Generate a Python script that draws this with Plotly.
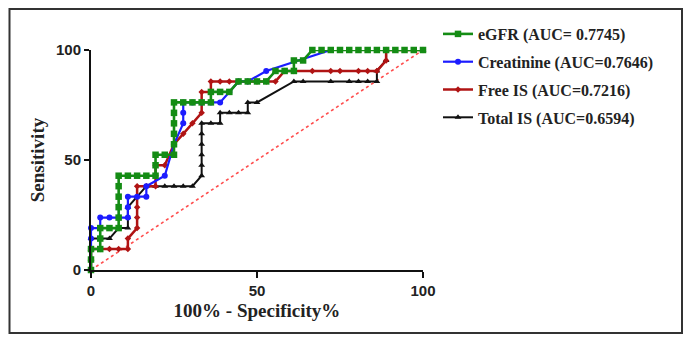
import plotly.graph_objects as go

# ---- data (percent) ----
egfr_x = [0, 0, 0, 2.78, 2.78, 2.78, 5.56, 8.33, 8.33, 8.33, 8.33, 8.33, 8.33,
          11.11, 13.89, 16.67, 19.44, 19.44, 19.44, 22.22, 25, 25, 25, 25, 25, 25,
          27.78, 30.56, 33.33, 36.11, 36.11, 38.89, 41.67, 44.44, 47.22, 50, 52.78,
          55.56, 58.33, 61.11, 61.11, 63.89, 66.67, 69.44, 72.22, 75, 77.78, 80.56,
          83.33, 86.11, 88.89, 91.67, 94.44, 97.22, 100]
egfr_y = [0, 4.76, 9.52, 9.52, 14.29, 19.05, 19.05, 19.05, 23.81, 28.57, 33.33, 38.1, 42.86,
          42.86, 42.86, 42.86, 42.86, 47.62, 52.38, 52.38, 52.38, 57.14, 61.9, 66.67, 71.43, 76.19,
          76.19, 76.19, 76.19, 76.19, 80.95, 80.95, 80.95, 85.71, 85.71, 85.71, 85.71,
          90.48, 90.48, 90.48, 95.24, 95.24, 100, 100, 100, 100, 100, 100,
          100, 100, 100, 100, 100, 100, 100]

creat_x = [0, 0, 0, 0, 0, 2.78, 2.78, 5.56, 8.33, 11.11, 11.11, 11.11, 13.89, 16.67, 16.67,
           22.22, 25, 27.78, 27.78, 27.78, 30.56, 33.33, 36.11, 38.89, 41.67, 44.44, 47.22,
           52.78, 72.22, 100]
creat_y = [0, 4.76, 9.52, 14.29, 19.05, 19.05, 23.81, 23.81, 23.81, 23.81, 28.57, 33.33, 33.33, 33.33, 38.1,
           42.86, 57.14, 66.67, 71.43, 76.19, 76.19, 76.19, 76.19, 76.19, 80.95, 85.71, 85.71,
           90.48, 100, 100]

free_x = [0, 0, 0, 2.78, 5.56, 8.33, 11.11, 11.11, 13.89, 13.89, 13.89, 13.89, 13.89,
          16.67, 19.44, 19.44, 19.44, 22.22, 25, 27.78, 30.56, 33.33, 33.33, 33.33,
          36.11, 36.11, 38.89, 41.67, 44.44, 47.22, 50, 52.78, 55.56, 58.33,
          61.11, 66.67, 72.22, 75, 80.56, 83.33, 86.11, 88.89, 88.89, 100]
free_y = [0, 4.76, 9.52, 9.52, 9.52, 9.52, 9.52, 14.29, 19.05, 23.81, 28.57, 33.33, 38.1,
          38.1, 38.1, 42.86, 47.62, 47.62, 57.14, 61.9, 66.67, 71.43, 76.19, 80.95,
          80.95, 85.71, 85.71, 85.71, 85.71, 85.71, 85.71, 85.71, 85.71, 90.48,
          90.48, 90.48, 90.48, 90.48, 90.48, 90.48, 90.48, 95.24, 100, 100]

total_x = [0, 0, 0, 0, 2.78, 5.56, 8.33, 11.11, 11.11, 11.11, 13.89, 16.67, 19.44, 22.22,
           25, 27.78, 30.56, 33.33, 33.33, 33.33, 33.33, 33.33, 33.33, 36.11, 38.89, 38.89,
           41.67, 44.44, 47.22, 47.22, 50, 61.11, 63.89, 72.22, 77.78, 80.56, 83.33, 86.11,
           86.11, 88.89, 88.89, 100]
total_y = [0, 4.76, 9.52, 14.29, 14.29, 14.29, 19.05, 19.05, 23.81, 28.57, 33.33, 38.1, 38.1, 38.1,
           38.1, 38.1, 38.1, 42.86, 47.62, 52.38, 57.14, 61.9, 66.67, 66.67, 66.67, 71.43,
           71.43, 71.43, 71.43, 76.19, 76.19, 85.71, 85.71, 85.71, 85.71, 85.71, 85.71, 85.71,
           90.48, 95.24, 100, 100]

ref_x = [0, 100]
ref_y = [0, 100]

names = ["eGFR (AUC= 0.7745)", "Creatinine (AUC=0.7646)", "Free IS (AUC=0.7216)", "Total IS (AUC=0.6594)"]
tick_vals = [0, 50, 100]

fig = go.Figure()

fig.add_trace(go.Scatter(x=ref_x, y=ref_y, mode="lines", showlegend=False,
                         line=dict(color="#ff4d4d", width=1.6, dash="dot"), hoverinfo="skip"))

fig.add_trace(go.Scatter(x=total_x, y=total_y, mode="lines+markers", name=names[3], legendrank=4,
                         legendgroup="d", line=dict(color="#111111", width=2),
                         marker=dict(symbol="triangle-up", size=6, color="#111111"), cliponaxis=False))
fig.add_trace(go.Scatter(x=free_x, y=free_y, mode="lines+markers", name=names[2], legendrank=3,
                         legendgroup="c", line=dict(color="#b01414", width=2.5),
                         marker=dict(symbol="diamond", size=5, color="#b01414"), cliponaxis=False))
fig.add_trace(go.Scatter(x=creat_x, y=creat_y, mode="lines+markers", name=names[1], legendrank=2,
                         legendgroup="b", line=dict(color="#1c1cff", width=2.2),
                         marker=dict(symbol="circle", size=6, color="#1c1cff"), cliponaxis=False))
fig.add_trace(go.Scatter(x=egfr_x, y=egfr_y, mode="lines+markers", name=names[0], legendrank=1,
                         legendgroup="a", line=dict(color="#148c14", width=2.6),
                         marker=dict(symbol="square", size=6.5, color="#148c14"), cliponaxis=False))

tick_font = dict(family="Liberation Sans, Arial, sans-serif", size=15, color="#222222", weight="bold")
title_font = dict(family="Liberation Serif, Times New Roman, serif", size=19, color="#222222", weight="bold")

fig.update_xaxes(range=[0, 100], tickvals=tick_vals, showline=True, linewidth=2, linecolor="#111111",
                 ticks="outside", ticklen=6, tickwidth=2, tickcolor="#111111", showgrid=False,
                 zeroline=False, tickfont=tick_font,
                 title=dict(text="100% - Specificity%", font=title_font, standoff=6))
fig.update_yaxes(range=[0, 100], tickvals=tick_vals, showline=True, linewidth=2, linecolor="#111111",
                 ticks="outside", ticklen=5, tickwidth=2, tickcolor="#111111", showgrid=False,
                 zeroline=False, tickfont=tick_font,
                 title=dict(text="Sensitivity", font=title_font, standoff=6))

# the page body adds an 8px offset, so figure coordinates are screen coordinates minus 8
L, R, T, B = 83, 269, 42, 71
W, H = 684, 333
pw, ph = W - L - R, H - T - B

def px2paper_x(p):
    return (p - L) / pw

def py2paper_y(p):
    return (H - B - p) / ph

fig.add_shape(type="rect", xref="paper", yref="paper",
              x0=px2paper_x(1.5), x1=px2paper_x(674), y0=py2paper_y(325), y1=py2paper_y(1),
              line=dict(color="#333333", width=2))

fig.update_layout(
    width=W, height=H, autosize=False,
    margin=dict(l=L, r=R, t=T, b=B, autoexpand=False),
    paper_bgcolor="white", plot_bgcolor="white",
    legend=dict(xref="container", yref="container", x=430 / W, xanchor="left",
                y=1 - 9 / H, yanchor="top",
                font=dict(family="Liberation Serif, Times New Roman, serif", size=16,
                          color="#222222", weight="bold"),
                tracegroupgap=4, bgcolor="rgba(0,0,0,0)", traceorder="grouped"),
)

fig.write_html("out.html")
